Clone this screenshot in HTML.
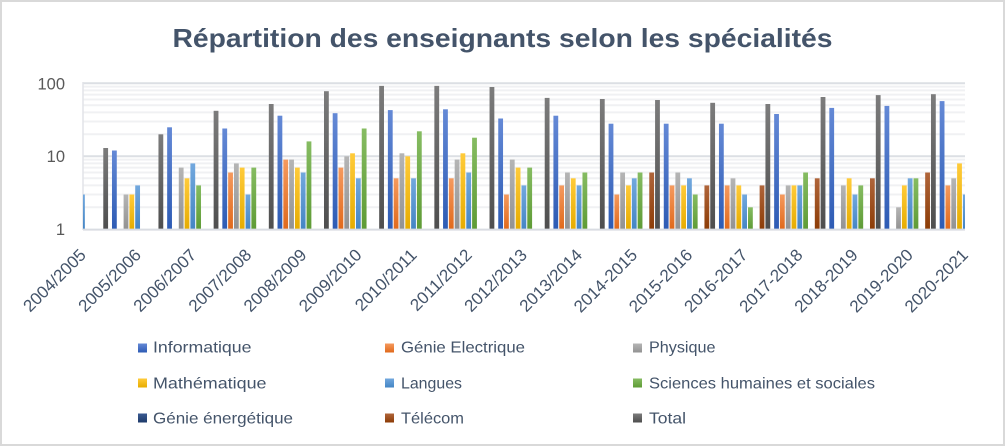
<!DOCTYPE html>
<html><head><meta charset="utf-8"><style>
html,body{margin:0;padding:0;background:#fff;}
svg{display:block;}
text{font-family:"Liberation Sans",sans-serif;}
</style></head><body>
<svg width="1005" height="446" viewBox="0 0 1005 446" xmlns="http://www.w3.org/2000/svg">
<defs>
<linearGradient id="gI" x1="0" y1="0" x2="0" y2="1"><stop offset="0" stop-color="#6489D6"/><stop offset="1" stop-color="#2D5BB4"/></linearGradient>
<linearGradient id="gG" x1="0" y1="0" x2="0" y2="1"><stop offset="0" stop-color="#F59A5E"/><stop offset="1" stop-color="#E0691B"/></linearGradient>
<linearGradient id="gP" x1="0" y1="0" x2="0" y2="1"><stop offset="0" stop-color="#B5B5B5"/><stop offset="1" stop-color="#929292"/></linearGradient>
<linearGradient id="gM" x1="0" y1="0" x2="0" y2="1"><stop offset="0" stop-color="#FFCB3A"/><stop offset="1" stop-color="#E6AC00"/></linearGradient>
<linearGradient id="gL" x1="0" y1="0" x2="0" y2="1"><stop offset="0" stop-color="#72A8DE"/><stop offset="1" stop-color="#4485C4"/></linearGradient>
<linearGradient id="gS" x1="0" y1="0" x2="0" y2="1"><stop offset="0" stop-color="#86BC62"/><stop offset="1" stop-color="#5E9B35"/></linearGradient>
<linearGradient id="gE" x1="0" y1="0" x2="0" y2="1"><stop offset="0" stop-color="#3A5A92"/><stop offset="1" stop-color="#1E3A6A"/></linearGradient>
<linearGradient id="gT" x1="0" y1="0" x2="0" y2="1"><stop offset="0" stop-color="#B0653A"/><stop offset="1" stop-color="#8C3C06"/></linearGradient>
<linearGradient id="gX" x1="0" y1="0" x2="0" y2="1"><stop offset="0" stop-color="#7C7C7C"/><stop offset="1" stop-color="#4E4E4E"/></linearGradient>
<clipPath id="pc"><rect x="83" y="0" width="882" height="232"/></clipPath>
</defs>
<rect x="1" y="1" width="1003" height="444" fill="#fff" stroke="#D9D9D9" stroke-width="2"/>
<text x="502.5" y="47" text-anchor="middle" font-size="26" font-weight="bold" fill="#44546A" textLength="660" lengthAdjust="spacingAndGlyphs">Répartition des enseignants selon les spécialités</text>

<!-- minor gridlines -->
<g stroke="#F0F1F3" stroke-width="2">
<line x1="83" x2="965" y1="86.6" y2="86.6"/><line x1="83" x2="965" y1="90.4" y2="90.4"/><line x1="83" x2="965" y1="94.6" y2="94.6"/><line x1="83" x2="965" y1="99.5" y2="99.5"/><line x1="83" x2="965" y1="105.3" y2="105.3"/><line x1="83" x2="965" y1="112.4" y2="112.4"/><line x1="83" x2="965" y1="121.5" y2="121.5"/><line x1="83" x2="965" y1="134.3" y2="134.3"/>
<line x1="83" x2="965" y1="159.6" y2="159.6"/><line x1="83" x2="965" y1="163.4" y2="163.4"/><line x1="83" x2="965" y1="167.6" y2="167.6"/><line x1="83" x2="965" y1="172.5" y2="172.5"/><line x1="83" x2="965" y1="178.3" y2="178.3"/><line x1="83" x2="965" y1="185.4" y2="185.4"/><line x1="83" x2="965" y1="194.5" y2="194.5"/><line x1="83" x2="965" y1="207.3" y2="207.3"/>
</g>
<g stroke="#DCDFE4" stroke-width="2">
<line x1="83" x2="965" y1="83.3" y2="83.3"/><line x1="83" x2="965" y1="156.3" y2="156.3"/>
</g>
<line x1="83" x2="83" y1="82" y2="230" stroke="#E2E4E8" stroke-width="1.5"/>

<!-- y labels -->
<g font-size="16.5" fill="#595959" text-anchor="end">
<text x="65" y="89.3">100</text><text x="65" y="162">10</text><text x="65" y="235">1</text>
</g>

<!-- bars -->
<g clip-path="url(#pc)">
<g transform="translate(56.8,0)">
<rect x="23.24" y="194.5" width="4.8" height="34.8" fill="url(#gL)"/>
<rect x="46.48" y="148" width="4.8" height="81.3" fill="url(#gX)"/>
</g>
<g transform="translate(111.98,0)">
<rect x="0" y="150.5" width="4.8" height="78.8" fill="url(#gI)"/>
<rect x="11.62" y="194.5" width="4.8" height="34.8" fill="url(#gP)"/>
<rect x="17.43" y="194.5" width="4.8" height="34.8" fill="url(#gM)"/>
<rect x="23.24" y="185.4" width="4.8" height="43.9" fill="url(#gL)"/>
<rect x="46.48" y="134.3" width="4.8" height="95" fill="url(#gX)"/>
</g>
<g transform="translate(167.16,0)">
<rect x="0" y="127.3" width="4.8" height="102" fill="url(#gI)"/>
<rect x="11.62" y="167.6" width="4.8" height="61.7" fill="url(#gP)"/>
<rect x="17.43" y="178.3" width="4.8" height="51" fill="url(#gM)"/>
<rect x="23.24" y="163.4" width="4.8" height="65.9" fill="url(#gL)"/>
<rect x="29.05" y="185.4" width="4.8" height="43.9" fill="url(#gS)"/>
<rect x="46.48" y="110.8" width="4.8" height="118.5" fill="url(#gX)"/>
</g>
<g transform="translate(222.34,0)">
<rect x="0" y="128.5" width="4.8" height="100.8" fill="url(#gI)"/>
<rect x="5.81" y="172.5" width="4.8" height="56.8" fill="url(#gG)"/>
<rect x="11.62" y="163.4" width="4.8" height="65.9" fill="url(#gP)"/>
<rect x="17.43" y="167.6" width="4.8" height="61.7" fill="url(#gM)"/>
<rect x="23.24" y="194.5" width="4.8" height="34.8" fill="url(#gL)"/>
<rect x="29.05" y="167.6" width="4.8" height="61.7" fill="url(#gS)"/>
<rect x="46.48" y="104" width="4.8" height="125.3" fill="url(#gX)"/>
</g>
<g transform="translate(277.52,0)">
<rect x="0" y="115.7" width="4.8" height="113.6" fill="url(#gI)"/>
<rect x="5.81" y="159.6" width="4.8" height="69.7" fill="url(#gG)"/>
<rect x="11.62" y="159.6" width="4.8" height="69.7" fill="url(#gP)"/>
<rect x="17.43" y="167.6" width="4.8" height="61.7" fill="url(#gM)"/>
<rect x="23.24" y="172.5" width="4.8" height="56.8" fill="url(#gL)"/>
<rect x="29.05" y="141.4" width="4.8" height="87.9" fill="url(#gS)"/>
<rect x="46.48" y="91.2" width="4.8" height="138.1" fill="url(#gX)"/>
</g>
<g transform="translate(332.7,0)">
<rect x="0" y="113.2" width="4.8" height="116.1" fill="url(#gI)"/>
<rect x="5.81" y="167.6" width="4.8" height="61.7" fill="url(#gG)"/>
<rect x="11.62" y="156.3" width="4.8" height="73" fill="url(#gP)"/>
<rect x="17.43" y="153.3" width="4.8" height="76" fill="url(#gM)"/>
<rect x="23.24" y="178.3" width="4.8" height="51" fill="url(#gL)"/>
<rect x="29.05" y="128.5" width="4.8" height="100.8" fill="url(#gS)"/>
<rect x="46.48" y="85.9" width="4.8" height="143.4" fill="url(#gX)"/>
</g>
<g transform="translate(387.88,0)">
<rect x="0" y="110.1" width="4.8" height="119.2" fill="url(#gI)"/>
<rect x="5.81" y="178.3" width="4.8" height="51" fill="url(#gG)"/>
<rect x="11.62" y="153.3" width="4.8" height="76" fill="url(#gP)"/>
<rect x="17.43" y="156.3" width="4.8" height="73" fill="url(#gM)"/>
<rect x="23.24" y="178.3" width="4.8" height="51" fill="url(#gL)"/>
<rect x="29.05" y="131.3" width="4.8" height="98" fill="url(#gS)"/>
<rect x="46.48" y="85.9" width="4.8" height="143.4" fill="url(#gX)"/>
</g>
<g transform="translate(443.06,0)">
<rect x="0" y="109.3" width="4.8" height="120" fill="url(#gI)"/>
<rect x="5.81" y="178.3" width="4.8" height="51" fill="url(#gG)"/>
<rect x="11.62" y="159.6" width="4.8" height="69.7" fill="url(#gP)"/>
<rect x="17.43" y="153.3" width="4.8" height="76" fill="url(#gM)"/>
<rect x="23.24" y="172.5" width="4.8" height="56.8" fill="url(#gL)"/>
<rect x="29.05" y="137.7" width="4.8" height="91.6" fill="url(#gS)"/>
<rect x="46.48" y="87" width="4.8" height="142.3" fill="url(#gX)"/>
</g>
<g transform="translate(498.24,0)">
<rect x="0" y="118.5" width="4.8" height="110.8" fill="url(#gI)"/>
<rect x="5.81" y="194.5" width="4.8" height="34.8" fill="url(#gG)"/>
<rect x="11.62" y="159.6" width="4.8" height="69.7" fill="url(#gP)"/>
<rect x="17.43" y="167.6" width="4.8" height="61.7" fill="url(#gM)"/>
<rect x="23.24" y="185.4" width="4.8" height="43.9" fill="url(#gL)"/>
<rect x="29.05" y="167.6" width="4.8" height="61.7" fill="url(#gS)"/>
<rect x="46.48" y="97.9" width="4.8" height="131.4" fill="url(#gX)"/>
</g>
<g transform="translate(553.42,0)">
<rect x="0" y="115.7" width="4.8" height="113.6" fill="url(#gI)"/>
<rect x="5.81" y="185.4" width="4.8" height="43.9" fill="url(#gG)"/>
<rect x="11.62" y="172.5" width="4.8" height="56.8" fill="url(#gP)"/>
<rect x="17.43" y="178.3" width="4.8" height="51" fill="url(#gM)"/>
<rect x="23.24" y="185.4" width="4.8" height="43.9" fill="url(#gL)"/>
<rect x="29.05" y="172.5" width="4.8" height="56.8" fill="url(#gS)"/>
<rect x="46.48" y="99" width="4.8" height="130.3" fill="url(#gX)"/>
</g>
<g transform="translate(608.6,0)">
<rect x="0" y="123.7" width="4.8" height="105.6" fill="url(#gI)"/>
<rect x="5.81" y="194.5" width="4.8" height="34.8" fill="url(#gG)"/>
<rect x="11.62" y="172.5" width="4.8" height="56.8" fill="url(#gP)"/>
<rect x="17.43" y="185.4" width="4.8" height="43.9" fill="url(#gM)"/>
<rect x="23.24" y="178.3" width="4.8" height="51" fill="url(#gL)"/>
<rect x="29.05" y="172.5" width="4.8" height="56.8" fill="url(#gS)"/>
<rect x="40.67" y="172.5" width="4.8" height="56.8" fill="url(#gT)"/>
<rect x="46.48" y="100" width="4.8" height="129.3" fill="url(#gX)"/>
</g>
<g transform="translate(663.78,0)">
<rect x="0" y="123.7" width="4.8" height="105.6" fill="url(#gI)"/>
<rect x="5.81" y="185.4" width="4.8" height="43.9" fill="url(#gG)"/>
<rect x="11.62" y="172.5" width="4.8" height="56.8" fill="url(#gP)"/>
<rect x="17.43" y="185.4" width="4.8" height="43.9" fill="url(#gM)"/>
<rect x="23.24" y="178.3" width="4.8" height="51" fill="url(#gL)"/>
<rect x="29.05" y="194.5" width="4.8" height="34.8" fill="url(#gS)"/>
<rect x="40.67" y="185.4" width="4.8" height="43.9" fill="url(#gT)"/>
<rect x="46.48" y="102.8" width="4.8" height="126.5" fill="url(#gX)"/>
</g>
<g transform="translate(718.96,0)">
<rect x="0" y="123.7" width="4.8" height="105.6" fill="url(#gI)"/>
<rect x="5.81" y="185.4" width="4.8" height="43.9" fill="url(#gG)"/>
<rect x="11.62" y="178.3" width="4.8" height="51" fill="url(#gP)"/>
<rect x="17.43" y="185.4" width="4.8" height="43.9" fill="url(#gM)"/>
<rect x="23.24" y="194.5" width="4.8" height="34.8" fill="url(#gL)"/>
<rect x="29.05" y="207.3" width="4.8" height="22" fill="url(#gS)"/>
<rect x="40.67" y="185.4" width="4.8" height="43.9" fill="url(#gT)"/>
<rect x="46.48" y="104" width="4.8" height="125.3" fill="url(#gX)"/>
</g>
<g transform="translate(774.14,0)">
<rect x="0" y="114" width="4.8" height="115.3" fill="url(#gI)"/>
<rect x="5.81" y="194.5" width="4.8" height="34.8" fill="url(#gG)"/>
<rect x="11.62" y="185.4" width="4.8" height="43.9" fill="url(#gP)"/>
<rect x="17.43" y="185.4" width="4.8" height="43.9" fill="url(#gM)"/>
<rect x="23.24" y="185.4" width="4.8" height="43.9" fill="url(#gL)"/>
<rect x="29.05" y="172.5" width="4.8" height="56.8" fill="url(#gS)"/>
<rect x="40.67" y="178.3" width="4.8" height="51" fill="url(#gT)"/>
<rect x="46.48" y="97" width="4.8" height="132.3" fill="url(#gX)"/>
</g>
<g transform="translate(829.32,0)">
<rect x="0" y="107.9" width="4.8" height="121.4" fill="url(#gI)"/>
<rect x="11.62" y="185.4" width="4.8" height="43.9" fill="url(#gP)"/>
<rect x="17.43" y="178.3" width="4.8" height="51" fill="url(#gM)"/>
<rect x="23.24" y="194.5" width="4.8" height="34.8" fill="url(#gL)"/>
<rect x="29.05" y="185.4" width="4.8" height="43.9" fill="url(#gS)"/>
<rect x="40.67" y="178.3" width="4.8" height="51" fill="url(#gT)"/>
<rect x="46.48" y="95.1" width="4.8" height="134.2" fill="url(#gX)"/>
</g>
<g transform="translate(884.5,0)">
<rect x="0" y="105.9" width="4.8" height="123.4" fill="url(#gI)"/>
<rect x="11.62" y="207.3" width="4.8" height="22" fill="url(#gP)"/>
<rect x="17.43" y="185.4" width="4.8" height="43.9" fill="url(#gM)"/>
<rect x="23.24" y="178.3" width="4.8" height="51" fill="url(#gL)"/>
<rect x="29.05" y="178.3" width="4.8" height="51" fill="url(#gS)"/>
<rect x="40.67" y="172.5" width="4.8" height="56.8" fill="url(#gT)"/>
<rect x="46.48" y="94.2" width="4.8" height="135.1" fill="url(#gX)"/>
</g>
<g transform="translate(939.68,0)">
<rect x="0" y="101.1" width="4.8" height="128.2" fill="url(#gI)"/>
<rect x="5.81" y="185.4" width="4.8" height="43.9" fill="url(#gG)"/>
<rect x="11.62" y="178.3" width="4.8" height="51" fill="url(#gP)"/>
<rect x="17.43" y="163.4" width="4.8" height="65.9" fill="url(#gM)"/>
<rect x="23.24" y="194.5" width="4.8" height="34.8" fill="url(#gL)"/>
</g>
</g>
<line x1="83" x2="965" y1="229.6" y2="229.6" stroke="#D9DCE2" stroke-width="2"/>

<!-- x labels -->
<g font-size="17" fill="#44546A" text-anchor="end">
<text transform="translate(87,256) rotate(-45)">2004/2005</text>
<text transform="translate(142.13,256) rotate(-45)">2005/2006</text>
<text transform="translate(197.26,256) rotate(-45)">2006/2007</text>
<text transform="translate(252.39,256) rotate(-45)">2007/2008</text>
<text transform="translate(307.52,256) rotate(-45)">2008/2009</text>
<text transform="translate(362.65,256) rotate(-45)">2009/2010</text>
<text transform="translate(417.78,256) rotate(-45)">2010/2011</text>
<text transform="translate(472.91,256) rotate(-45)">2011/2012</text>
<text transform="translate(528.04,256) rotate(-45)">2012/2013</text>
<text transform="translate(583.17,256) rotate(-45)">2013/2014</text>
<text transform="translate(638.3,256) rotate(-45)">2014-2015</text>
<text transform="translate(693.43,256) rotate(-45)">2015-2016</text>
<text transform="translate(748.56,256) rotate(-45)">2016-2017</text>
<text transform="translate(803.69,256) rotate(-45)">2017-2018</text>
<text transform="translate(858.82,256) rotate(-45)">2018-2019</text>
<text transform="translate(913.95,256) rotate(-45)">2019-2020</text>
<text transform="translate(969.08,256) rotate(-45)">2020-2021</text>
</g>

<!-- legend -->
<rect x="138" y="343.5" width="9" height="9" fill="url(#gI)"/>
<rect x="385" y="343.5" width="9" height="9" fill="url(#gG)"/>
<rect x="633" y="343.5" width="9" height="9" fill="url(#gP)"/>
<rect x="138" y="378.5" width="9" height="9" fill="url(#gM)"/>
<rect x="385" y="378.5" width="9" height="9" fill="url(#gL)"/>
<rect x="633" y="378.5" width="9" height="9" fill="url(#gS)"/>
<rect x="138" y="413.5" width="9" height="9" fill="url(#gE)"/>
<rect x="385" y="413.5" width="9" height="9" fill="url(#gT)"/>
<rect x="633" y="413.5" width="9" height="9" fill="url(#gX)"/>
<g font-size="16" fill="#44546A">
<text x="153" y="352.7" textLength="98.5" lengthAdjust="spacingAndGlyphs">Informatique</text>
<text x="401" y="352.7" textLength="124" lengthAdjust="spacingAndGlyphs">Génie Electrique</text>
<text x="649" y="352.7" textLength="66.5" lengthAdjust="spacingAndGlyphs">Physique</text>
<text x="153" y="388.7" textLength="113.5" lengthAdjust="spacingAndGlyphs">Mathématique</text>
<text x="401" y="388.7" textLength="61" lengthAdjust="spacingAndGlyphs">Langues</text>
<text x="649" y="388.7" textLength="226" lengthAdjust="spacingAndGlyphs">Sciences humaines et sociales</text>
<text x="153" y="423.7" textLength="140" lengthAdjust="spacingAndGlyphs">Génie énergétique</text>
<text x="401" y="423.7" textLength="63" lengthAdjust="spacingAndGlyphs">Télécom</text>
<text x="649" y="423.7" textLength="37" lengthAdjust="spacingAndGlyphs">Total</text>
</g>
</svg>
</body></html>
